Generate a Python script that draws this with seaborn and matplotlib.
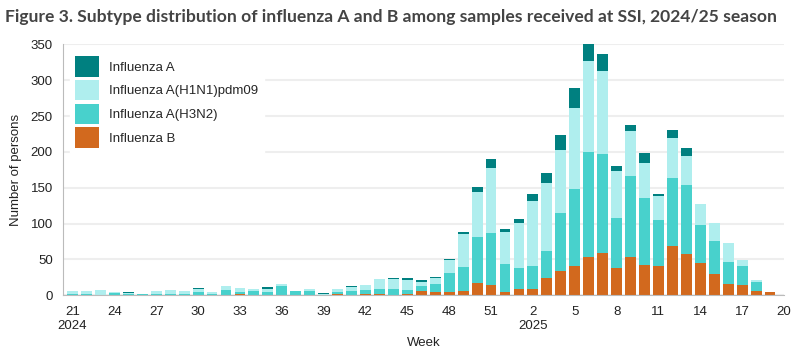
import pandas as pd
import seaborn as sns
import matplotlib.pyplot as plt

weeks = list(range(21, 53)) + list(range(1, 21))

flu_b = [0, 0, 0, 0, 0, 0, 0, 0, 0, 0, 0, 0, 2, 0, 0, 0, 0, 0, 0, 2,
         0, 2, 2, 0, 2, 6, 5, 5, 6, 17, 14, 5, 9, 9, 24, 34, 41, 54, 59, 38,
         54, 42, 41, 69, 58, 45, 30, 16, 14, 6, 4, 0]
h3n2 = [2, 2, 0, 3, 2, 2, 2, 2, 2, 5, 2, 7, 3, 6, 5, 13, 6, 6, 1, 3,
        6, 5, 7, 9, 5, 7, 11, 26, 34, 64, 73, 38, 29, 32, 38, 81, 107, 146, 138, 70,
        112, 94, 64, 95, 96, 53, 46, 31, 27, 13, 1, 0]
h1n1 = [4, 4, 7, 1, 1, 0, 4, 5, 4, 4, 3, 6, 5, 3, 4, 3, 0, 3, 1, 4,
        6, 8, 14, 14, 15, 6, 8, 18, 45, 63, 91, 45, 63, 91, 95, 88, 113, 127, 116, 65,
        63, 49, 34, 56, 40, 29, 25, 26, 8, 3, 0, 0]
flu_a = [0, 0, 0, 0, 2, 0, 0, 0, 0, 1, 0, 0, 0, 0, 3, 0, 0, 0, 1, 0,
         1, 0, 0, 1, 2, 3, 2, 2, 3, 7, 12, 4, 6, 10, 14, 21, 28, 23, 24, 8,
         8, 14, 3, 10, 11, 1, 0, 0, 0, 0, 0, 0]

labels = ["Influenza A", "Influenza A(H1N1)pdm09", "Influenza A(H3N2)", "Influenza B"]
colors = ["#008080", "#AFEEEE", "#48D1CC", "#D2691E"]

rows = []
for name, vals in zip(labels, [flu_a, h1n1, h3n2, flu_b]):
    for i, v in enumerate(vals):
        rows.append({"idx": i, "count": v, "type": name})
df = pd.DataFrame(rows)

sns.set_style("white")
plt.rcParams["font.family"] = ["Liberation Sans", "DejaVu Sans"]

fig = plt.figure(figsize=(8, 3.52), dpi=100)
ax = fig.add_axes([0.079, 0.161, 0.901, 0.713])

sns.histplot(data=df, x="idx", weights="count", hue="type", hue_order=labels,
             palette=colors, multiple="stack", discrete=True, shrink=0.78,
             alpha=1, linewidth=0, ax=ax)

ax.set_ylim(0, 350)
ax.set_xlim(-0.67, 51)
ax.set_yticks(range(0, 351, 50))
ax.yaxis.grid(True, color="#eeeeee", linewidth=1.5)
ax.set_axisbelow(True)

tick_pos = list(range(0, 52, 3))
tick_lab = []
for p in tick_pos:
    w = str(weeks[p])
    if weeks[p] == 21 and p == 0:
        w += "\n2024"
    elif weeks[p] == 2:
        w += "\n2025"
    tick_lab.append(w)
ax.set_xticks(tick_pos)
ax.set_xticklabels(tick_lab)

for s in ["top", "right"]:
    ax.spines[s].set_visible(False)
for s in ["left", "bottom"]:
    ax.spines[s].set_color("#bbbbbb")
ax.tick_params(axis="both", colors="#bbbbbb", labelcolor="#222222",
               labelsize=9.5, length=4, width=1)

ax.set_xlabel("Week", fontsize=9.5, color="#222222")
ax.set_ylabel("Number of persons", fontsize=9.5, color="#222222", labelpad=6)

sns.move_legend(ax, "upper left", title=None, frameon=True, fontsize=9.5,
                handlelength=1.8, handleheight=2.0, labelspacing=0.25,
                borderaxespad=0.5, facecolor="white", edgecolor="white",
                framealpha=1, fancybox=False)

fig.text(0.006, 0.952, "Figure 3. Subtype distribution of influenza A and B among samples received at SSI, 2024/25 season",
         fontsize=12.6, fontweight="bold", color="#444444", family="Lato", va="center")

fig.savefig("out.png", dpi=100)
